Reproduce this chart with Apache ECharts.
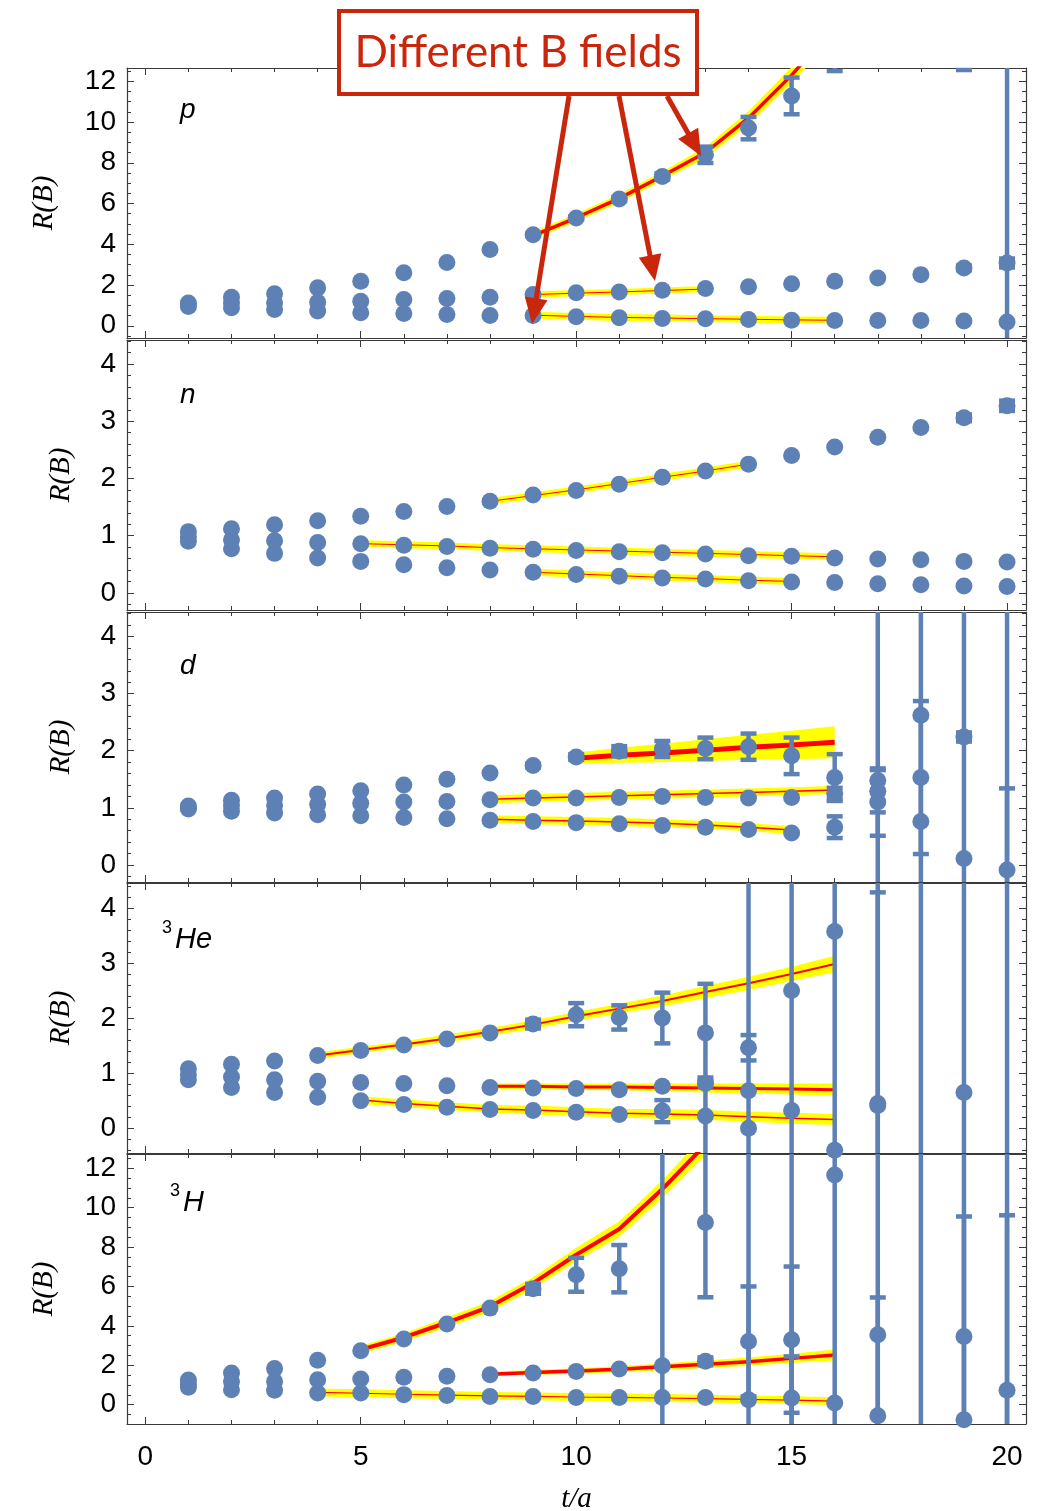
<!DOCTYPE html>
<html>
<head>
<meta charset="utf-8">
<title>R(B) vs t/a</title>
<script src="https://cdn.jsdelivr.net/npm/echarts@6.0.0/dist/echarts.min.js"></script>
<style>
html,body{margin:0;padding:0;background:#ffffff;}
#chart{width:1040px;height:1511px;}
</style>
</head>
<body>
<div id="chart"></div>
<script>
// ================= DATA =================
const T = [1,2,3,4,5,6,7,8,9,10,11,12,13,14,15,16,17,18,19,20];

// ---- p ----
const pUp     = [1.12,1.40,1.57,1.86,2.18,2.60,3.11,3.74,4.47,5.29,6.22,7.33,8.39,9.70,11.28,14.0,null,null,17.0,null];
const pUpErr  = [0,0,0,0,0,0,0,0,0.05,0.08,0.10,0.15,0.40,0.55,0.90,1.50,0,0,4.45,0];
const pMid    = [1.03,1.13,1.13,1.16,1.20,1.29,1.34,1.40,1.53,1.62,1.66,1.74,1.83,1.91,2.06,2.18,2.35,2.51,2.84,3.08];
const pMidErr = [0,0,0,0,0,0,0,0,0,0,0,0,0,0,0,0,0,0,0.12,0.22];
const pLow    = [0.95,0.88,0.80,0.72,0.64,0.60,0.55,0.50,0.50,0.44,0.39,0.36,0.34,0.31,0.27,0.26,0.26,0.26,0.23,0.18];
const pLowErr = [0,0,0,0,0,0,0,0,0,0,0,0,0,0,0,0,0,0,0,13];
const pFitAT = [9,10,11,12,13,14,15,16];
const pFitAC = [4.42,5.30,6.25,7.35,8.50,10.2,12.3,14.7];
const pFitAW = [0.18,0.20,0.20,0.22,0.27,0.33,0.40,0.50];
const pFitBT = [9,10,11,12,13];
const pFitBC = [1.53,1.60,1.66,1.73,1.80];
const pFitBW = [0.15,0.15,0.15,0.15,0.15];
const pFitCT = [9,10,11,12,13,14,15,16];
const pFitCC = [0.52,0.46,0.41,0.38,0.35,0.32,0.29,0.27];
const pFitCW = [0.17,0.17,0.17,0.17,0.17,0.17,0.17,0.17];

// ---- n ----
const nUp     = [1.07,1.12,1.19,1.26,1.34,1.42,1.51,1.60,1.71,1.79,1.90,2.02,2.13,2.25,2.40,2.55,2.72,2.89,3.06,3.27];
const nUpErr  = [0,0,0,0,0,0,0,0,0,0,0,0,0,0,0,0,0,0,0.06,0.09];
const nMid    = [0.98,0.93,0.91,0.88,0.86,0.83,0.81,0.78,0.76,0.74,0.72,0.70,0.68,0.65,0.64,0.61,0.59,0.58,0.55,0.54];
const nMidErr = [0,0,0,0,0,0,0,0,0,0,0,0,0,0,0,0,0,0,0,0];
const nLow    = [0.90,0.77,0.69,0.61,0.55,0.49,0.44,0.40,0.36,0.32,0.29,0.26,0.24,0.21,0.19,0.18,0.16,0.14,0.12,0.11];
const nLowErr = [0,0,0,0,0,0,0,0,0,0,0,0,0,0,0,0,0,0,0,0];
const nFitAT = [8,9,10,11,12,13,14];
const nFitAC = [1.60,1.70,1.80,1.91,2.02,2.13,2.25];
const nFitAW = [0.06,0.06,0.06,0.06,0.06,0.06,0.06];
const nFitBT = [5,6,7,8,9,10,11,12,13,14,15,16];
const nFitBC = [0.86,0.84,0.82,0.79,0.77,0.75,0.73,0.71,0.69,0.67,0.65,0.63];
const nFitBW = [0.06,0.06,0.06,0.06,0.06,0.06,0.06,0.06,0.06,0.06,0.06,0.06];
const nFitCT = [9,10,11,12,13,14,15];
const nFitCC = [0.36,0.33,0.30,0.27,0.25,0.22,0.20];
const nFitCW = [0.06,0.06,0.06,0.06,0.06,0.06,0.06];

// ---- d ----
const dUp     = [1.03,1.13,1.17,1.24,1.30,1.40,1.50,1.61,1.74,1.89,1.99,2.03,2.04,2.07,1.91,1.53,1.48,2.62,2.24,6.0];
const dUpErr  = [0,0,0,0,0,0,0,0,0.03,0.05,0.09,0.14,0.19,0.23,0.32,0.41,20,20,0.08,20];
const dMid    = [1.00,1.04,1.04,1.06,1.08,1.10,1.11,1.14,1.17,1.17,1.18,1.20,1.18,1.17,1.18,1.25,1.29,1.53,null,null];
const dMidErr = [0,0,0,0,0,0,0,0,0,0,0,0,0,0,0,0.10,0.37,1.34,0,0];
const dLow    = [0.98,0.94,0.91,0.88,0.86,0.83,0.81,0.78,0.76,0.74,0.72,0.69,0.66,0.62,0.56,0.66,1.10,0.76,0.11,-0.09];
const dLowErr = [0,0,0,0,0,0,0,0,0,0,0,0,0,0,0,0.19,0.59,0,20,1.43];
const dFitAT = [10,11,12,13,14,15,16];
const dFitAC = [1.87,1.92,1.96,2.01,2.06,2.10,2.15];
const dFitAW = [0.10,0.13,0.16,0.19,0.22,0.25,0.28];
const dFitBT = [8,9,10,11,12,13,14,15,16];
const dFitBC = [1.15,1.17,1.19,1.21,1.23,1.25,1.27,1.29,1.31];
const dFitBW = [0.07,0.07,0.07,0.07,0.07,0.07,0.07,0.07,0.07];
const dFitCT = [8,9,10,11,12,13,14,15];
const dFitCC = [0.80,0.78,0.77,0.75,0.73,0.70,0.66,0.61];
const dFitCW = [0.07,0.07,0.07,0.07,0.07,0.07,0.07,0.07];

// ---- 3He ----
const hUp     = [1.08,1.16,1.22,1.32,1.41,1.51,1.62,1.73,1.89,2.06,2.01,2.00,1.73,1.46,2.50,3.57,0.45,6.0,0.65,6.0];
const hUpErr  = [0,0,0,0,0,0,0,0,0.08,0.21,0.22,0.46,0.89,0.23,20,20,20,20,20,20];
const hMid    = [0.97,0.93,0.88,0.85,0.83,0.81,0.77,0.74,0.73,0.72,0.70,0.76,0.81,0.68,null,null,null,null,null,null];
const hMidErr = [0,0,0,0,0,0,0,0,0,0,0,0,0.05,20,0,0,0,0,0,0];
const hLow    = [0.88,0.74,0.65,0.56,0.50,0.43,0.38,0.34,0.32,0.29,0.25,0.31,0.22,0.00,0.32,-0.40,0.41,null,null,null];
const hLowErr = [0,0,0,0,0,0,0,0,0,0,0,0.20,0.70,0,0,0,3.87,0,0,0];
const hFitAT = [4,5,6,7,8,9,10,11,12,13,14,15,16];
const hFitAC = [1.32,1.42,1.52,1.63,1.75,1.88,2.03,2.17,2.31,2.47,2.63,2.80,2.98];
const hFitAW = [0.06,0.06,0.06,0.07,0.07,0.08,0.08,0.09,0.10,0.11,0.12,0.13,0.15];
const hFitBT = [8,9,10,11,12,13,14,15,16];
const hFitBC = [0.76,0.76,0.75,0.75,0.74,0.73,0.72,0.71,0.70];
const hFitBW = [0.05,0.05,0.06,0.06,0.07,0.08,0.09,0.10,0.11];
const hFitCT = [5,6,7,8,9,10,11,12,13,14,15,16];
const hFitCC = [0.51,0.45,0.40,0.35,0.33,0.30,0.27,0.26,0.24,0.21,0.18,0.16];
const hFitCW = [0.07,0.07,0.07,0.07,0.08,0.08,0.08,0.09,0.09,0.09,0.10,0.10];

// ---- 3H ----
const tUp     = [1.25,1.61,1.83,2.25,2.74,3.33,4.09,4.90,5.88,6.59,6.90,14.5,9.25,3.21,14.5,11.66,3.55,14.5,14.5,14.5];
const tUpErr  = [0,0,0,0,0,0,0,0,0.25,0.86,1.20,20,3.80,2.79,20,20,20,20,20,20];
const tMid    = [1.05,1.18,1.18,1.27,1.30,1.39,1.44,1.52,1.61,1.69,1.81,1.98,2.20,null,3.30,0.09,null,null,3.46,0.73];
const tMidErr = [0,0,0,0,0,0,0,0,0,0,0,0,0.20,0,3.71,0,0,0,6.09,8.88];
const tLow    = [0.88,0.76,0.73,0.59,0.59,0.51,0.47,0.42,0.42,0.37,0.37,0.37,0.37,0.25,0.34,-1.10,-0.56,null,-0.76,null];
const tLowErr = [0,0,0,0,0,0,0,0,0,0,0,0,0,20,2.11,0,6.0,0,0,0];
const tFitAT = [5,6,7,8,9,10,11,12,13];
const tFitAC = [2.79,3.41,4.17,4.98,6.17,7.61,8.91,10.94,13.2];
const tFitAW = [0.20,0.22,0.25,0.28,0.30,0.35,0.40,0.45,0.55];
const tFitBT = [8,9,10,11,12,13,14,15,16];
const tFitBC = [1.55,1.63,1.71,1.80,1.92,2.05,2.18,2.35,2.52];
const tFitBW = [0.12,0.13,0.14,0.15,0.17,0.19,0.21,0.24,0.28];
const tFitCT = [4,5,6,7,8,9,10,11,12,13,14,15,16];
const tFitCC = [0.62,0.58,0.53,0.49,0.45,0.42,0.39,0.37,0.34,0.31,0.27,0.23,0.18];
const tFitCW = [0.20,0.20,0.20,0.20,0.20,0.20,0.20,0.20,0.20,0.20,0.20,0.20,0.20];

// ================= STYLE / LAYOUT =================
const BLUE = '#5E81B5', YELLOW = '#FFFF00', RED = '#FF0000', ANNOT = '#C9260C', FRAME = '#3a3a3a';
const GRID_TOPS = [68, 340, 612, 883, 1154];
const GRID_HEIGHT = 270;
const GRID_LEFT = 127, GRID_RIGHT = 14;
const X_MIN = -0.425, X_MAX = 20.44;
const Y_RANGES = [[-0.6, 12.65], [-0.3, 4.42], [-0.3, 4.43], [-0.45, 4.45], [-0.98, 12.72]];
const Y_SPLIT = [6, 4, 4, 4, 6];
const Y_MINOR = [4, 5, 5, 5, 4];
const NAME_GAP = [68, 51, 51, 51, 68];
const FIT_WIDTHS = [[3.5, 1, 1], [1, 1, 1], [5, 1.5, 1.5], [2, 3, 1.5], [4, 3.5, 1.2]];

const panels = [
  { pts: [[pUp, pUpErr], [pMid, pMidErr], [pLow, pLowErr]],
    fits: [[pFitAT, pFitAC, pFitAW], [pFitBT, pFitBC, pFitBW], [pFitCT, pFitCC, pFitCW]] },
  { pts: [[nUp, nUpErr], [nMid, nMidErr], [nLow, nLowErr]],
    fits: [[nFitAT, nFitAC, nFitAW], [nFitBT, nFitBC, nFitBW], [nFitCT, nFitCC, nFitCW]] },
  { pts: [[dUp, dUpErr], [dMid, dMidErr], [dLow, dLowErr]],
    fits: [[dFitAT, dFitAC, dFitAW], [dFitBT, dFitBC, dFitBW], [dFitCT, dFitCC, dFitCW]] },
  { pts: [[hUp, hUpErr], [hMid, hMidErr], [hLow, hLowErr]],
    fits: [[hFitAT, hFitAC, hFitAW], [hFitBT, hFitBC, hFitBW], [hFitCT, hFitCC, hFitCW]] },
  { pts: [[tUp, tUpErr], [tMid, tMidErr], [tLow, tLowErr]],
    fits: [[tFitAT, tFitAC, tFitAW], [tFitBT, tFitBC, tFitBW], [tFitCT, tFitCC, tFitCW]] }
];

// ---------- helpers ----------
function clipY(poly, yLim, keepBelow) {
  const out = [];
  for (let i = 0; i < poly.length; i++) {
    const a = poly[i], b = poly[(i + 1) % poly.length];
    const ina = keepBelow ? a[1] >= yLim : a[1] <= yLim;
    const inb = keepBelow ? b[1] >= yLim : b[1] <= yLim;
    if (ina) out.push(a);
    if (ina !== inb) {
      const s = (yLim - a[1]) / (b[1] - a[1]);
      out.push([a[0] + s * (b[0] - a[0]), yLim]);
    }
  }
  return out;
}

function bandRenderer(ft, fc, fw) {
  return function (params, api) {
    const cs = params.coordSys;
    let poly = [];
    for (let i = 0; i < ft.length; i++) poly.push(api.coord([ft[i], fc[i] + fw[i]]));
    for (let i = ft.length - 1; i >= 0; i--) poly.push(api.coord([ft[i], fc[i] - fw[i]]));
    poly = clipY(poly, cs.y, true);
    poly = clipY(poly, cs.y + cs.height, false);
    if (poly.length < 3) return null;
    return { type: 'polygon', shape: { points: poly }, style: { fill: YELLOW, stroke: null } };
  };
}

function errRenderer(params, api) {
  const t = api.value(0), v = api.value(1), e = api.value(2);
  const cs = params.coordSys;
  const top = api.coord([t, v + e]), bot = api.coord([t, v - e]);
  const yTop = cs.y, yBot = cs.y + cs.height;
  const y1 = Math.max(top[1], yTop), y2 = Math.min(bot[1], yBot);
  const x = top[0];
  const children = [];
  if (y2 > y1) children.push({ type: 'line', shape: { x1: x, y1: y1, x2: x, y2: y2 }, style: { stroke: BLUE, lineWidth: 4.5 } });
  [top[1], bot[1]].forEach(function (yc) {
    if (yc >= yTop + 1 && yc <= yBot - 1) {
      children.push({ type: 'line', shape: { x1: x - 8, y1: yc, x2: x + 8, y2: yc }, style: { stroke: BLUE, lineWidth: 4.5 } });
    }
  });
  return { type: 'group', children: children };
}

const intLabel = function (v) {
  return Math.abs(v - Math.round(v)) < 1e-6 ? String(Math.round(v)) : '';
};

// ---------- build option ----------
const grid = [], xAxis = [], yAxis = [], series = [];
const lineStyleFrame = { color: FRAME, width: 1.2 };

panels.forEach(function (pn, i) {
  grid.push({ left: GRID_LEFT, right: GRID_RIGHT, top: GRID_TOPS[i], height: GRID_HEIGHT,
              containLabel: false, outerBoundsMode: 'none' });

  const xc = {
    type: 'value', gridIndex: i, min: X_MIN, max: X_MAX, splitNumber: 4,
    axisLine: { show: true, onZero: false, lineStyle: lineStyleFrame },
    axisTick: { show: true, inside: true, length: 7, lineStyle: { color: FRAME, width: 1 } },
    minorTick: { show: true, splitNumber: 5, length: 4, lineStyle: { color: FRAME, width: 1 } },
    splitLine: { show: false }, minorSplitLine: { show: false }
  };
  xAxis.push(Object.assign({}, xc, {
    position: 'bottom',
    axisLabel: { show: i === 4, showMinLabel: false, showMaxLabel: false, formatter: intLabel,
                 fontFamily: 'Liberation Sans', fontSize: 28, color: '#000', margin: 19 },
    name: i === 4 ? 't/a' : '', nameLocation: 'middle', nameGap: 61,
    nameTextStyle: { fontFamily: 'Liberation Serif', fontStyle: 'italic', fontSize: 29, color: '#000' }
  }));
  xAxis.push(Object.assign({}, xc, { position: 'top', axisLabel: { show: false } }));

  const yc = {
    type: 'value', gridIndex: i, min: Y_RANGES[i][0], max: Y_RANGES[i][1], splitNumber: Y_SPLIT[i],
    axisLine: { show: true, onZero: false, lineStyle: lineStyleFrame },
    axisTick: { show: true, inside: true, length: 7, lineStyle: { color: FRAME, width: 1 } },
    minorTick: { show: true, splitNumber: Y_MINOR[i], length: 4, lineStyle: { color: FRAME, width: 1 } },
    splitLine: { show: false }, minorSplitLine: { show: false }
  };
  yAxis.push(Object.assign({}, yc, {
    position: 'left',
    axisLabel: { show: true, showMinLabel: false, showMaxLabel: false, formatter: intLabel,
                 fontFamily: 'Liberation Sans', fontSize: 28, color: '#000', margin: 11 },
    name: 'R(B)', nameLocation: 'middle', nameRotate: 90, nameGap: NAME_GAP[i],
    nameTextStyle: { fontFamily: 'Liberation Serif', fontStyle: 'italic', fontSize: 29, color: '#000' }
  }));
  yAxis.push(Object.assign({}, yc, { position: 'right', axisLabel: { show: false } }));

  const ax = { xAxisIndex: 2 * i, yAxisIndex: 2 * i };

  pn.fits.forEach(function (f, k) {
    const ft = f[0], fc = f[1], fw = f[2];
    series.push(Object.assign({
      type: 'custom', z: 1, silent: true, encode: { x: 0, y: 1 },
      data: [[ft[0], fc[0]]], renderItem: bandRenderer(ft, fc, fw)
    }, ax));
    series.push(Object.assign({
      type: 'line', z: 2, silent: true, symbol: 'none', showSymbol: false, clip: true,
      data: ft.map(function (t, j) { return [t, fc[j]]; }),
      lineStyle: { color: RED, width: FIT_WIDTHS[i][k] }
    }, ax));
  });

  const errData = [], ptData = [];
  pn.pts.forEach(function (pair) {
    const vals = pair[0], errs = pair[1];
    T.forEach(function (t, j) {
      if (vals[j] === null || vals[j] === undefined) return;
      ptData.push([t, vals[j]]);
      if (errs[j] > 0) errData.push([t, vals[j], errs[j]]);
    });
  });
  series.push(Object.assign({
    type: 'custom', z: 3, silent: true, encode: { x: 0, y: 1 },
    data: errData, renderItem: errRenderer
  }, ax));
  series.push(Object.assign({
    type: 'scatter', z: 4, silent: true, clip: true, symbol: 'circle', symbolSize: 17,
    itemStyle: { color: BLUE, opacity: 1 }, data: ptData
  }, ax));
});

// ---------- annotations ----------
function arrow(x1, y1, x2, y2) {
  const dx = x2 - x1, dy = y2 - y1, L = Math.hypot(dx, dy), ux = dx / L, uy = dy / L;
  const hl = 26, hw = 11.5;
  const bx = x2 - ux * hl, by = y2 - uy * hl;
  return [
    { type: 'line', z: 100, shape: { x1: x1, y1: y1, x2: bx + ux * 3, y2: by + uy * 3 },
      style: { stroke: ANNOT, lineWidth: 5 } },
    { type: 'polygon', z: 100, shape: { points: [[x2, y2], [bx - uy * hw, by + ux * hw], [bx + uy * hw, by - ux * hw]] },
      style: { fill: ANNOT } }
  ];
}

function label(x, y, text, size, italic) {
  return { type: 'text', z: 50, x: x, y: y,
    style: { text: text, fill: '#000', font: (italic ? 'italic ' : '') + size + 'px "Liberation Sans"',
             align: 'left', verticalAlign: 'middle', textAlign: 'left', textVerticalAlign: 'middle' } };
}

const graphicEls = [
  { type: 'rect', z: 100, shape: { x: 339, y: 11, width: 358, height: 83 },
    style: { fill: '#ffffff', stroke: ANNOT, lineWidth: 4 } },
  { type: 'text', z: 101, x: 518, y: 53,
    style: { text: 'Different B fields', fill: ANNOT, font: '44px Lato',
             align: 'center', verticalAlign: 'middle', textAlign: 'center', textVerticalAlign: 'middle' } },
  label(180, 110, 'p', 28, true),
  label(180, 395, 'n', 28, true),
  label(180, 666, 'd', 28, true),
  label(162, 928, '3', 18, false),
  label(175, 940, 'He', 29, true),
  label(170, 1191, '3', 18, false),
  label(183, 1203, 'H', 29, true)
].concat(arrow(569, 96, 532, 324), arrow(619, 96, 655, 281), arrow(667, 96, 701, 156));

const option = {
  animation: false,
  backgroundColor: '#ffffff',
  grid: grid,
  xAxis: xAxis,
  yAxis: yAxis,
  series: series,
  graphic: { elements: graphicEls }
};

const chart = echarts.init(document.getElementById('chart'), null, { renderer: 'canvas' });
chart.setOption(option);
</script>
</body>
</html>
